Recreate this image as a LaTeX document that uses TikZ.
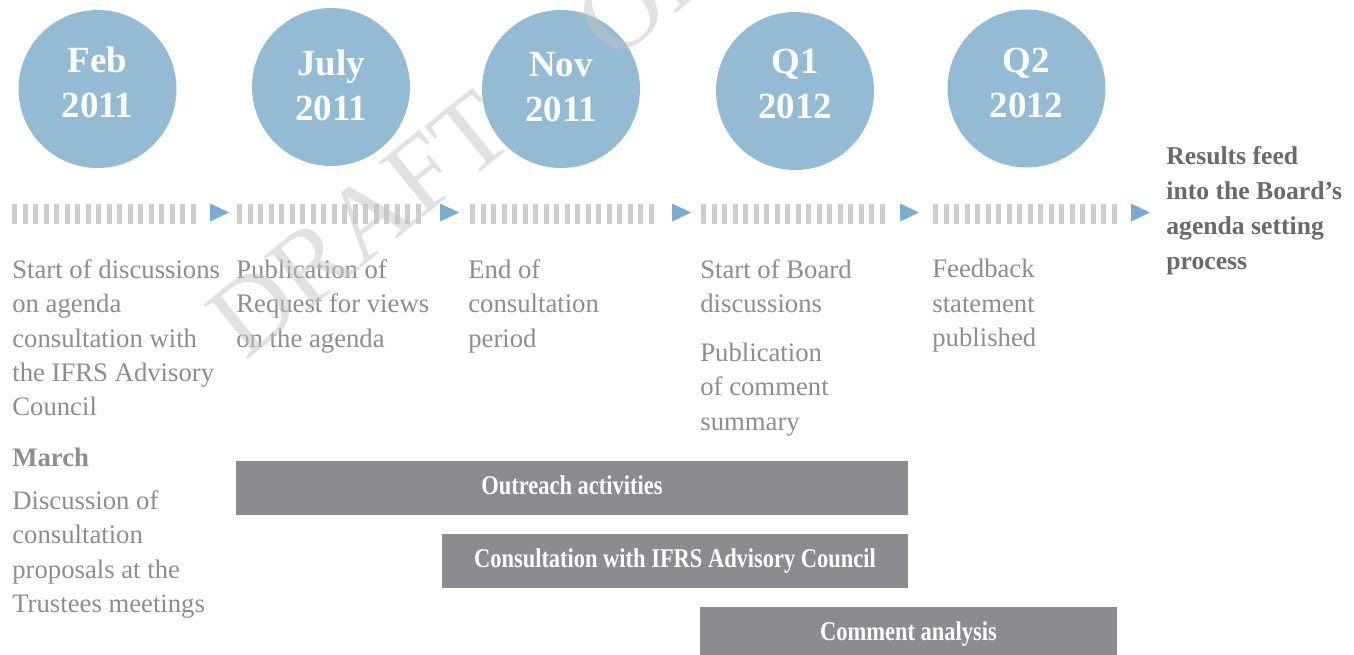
\documentclass[tikz,border=0pt]{standalone}
\usepackage{fontspec}
\setmainfont{Liberation Serif}
\newfontfamily\narrowSerif[FakeStretch=0.83]{Liberation Serif}
\usepackage{xcolor}

\definecolor{dateBlue}{RGB}{148,187,212}
\definecolor{arrowBlue}{RGB}{121,172,208}
\definecolor{stripeGray}{RGB}{205,205,206}
\definecolor{barGray}{RGB}{139,140,144}
\definecolor{textGray}{RGB}{140,141,145}
\definecolor{darkGray}{RGB}{105,106,110}
\definecolor{draftGray}{RGB}{194,195,198}

\begin{document}
\begin{tikzpicture}[x=0.02cm, y=-0.02cm, inner sep=0pt]
            \useasboundingbox (0,0) rectangle (1354,655);
            \clip (0,0) rectangle (1354,655);

            \tikzstyle{myCir}=[circle, fill=dateBlue, minimum size=3.16cm];
            \tikzstyle{myDate}=[align=center, text=white, font={\fontsize{21}{25.6}\selectfont\bfseries}];
            \tikzstyle{myText}=[anchor=north west, align=left, text=textGray, font={\fontsize{15.2}{19.6}\selectfont}];
            \tikzstyle{myBar}=[fill=barGray, minimum height=1.08cm, text=white, text height=1.5ex, text depth=0pt, font={\narrowSerif\fontsize{15.4}{18}\selectfont\bfseries}];

            % dates
            \node[myCir] (1) at (97.5,89) {};
            \node[myDate] (1t) at (97.5,82) {Feb\\2011};
            \node[myCir] (2) at (331,87) {};
            \node[myDate] (2t) at (331,85) {July\\2011};
            \node[myCir] (3) at (561,89) {};
            \node[myDate] (3t) at (561,87.5) {Nov\\2011};
            \node[myCir] (4) at (795,91) {};
            \node[myDate] (4t) at (795,84) {Q1\\2012};
            \node[myCir] (5) at (1026.5,88.5) {};
            \node[myDate] (5t) at (1026.5,82.5) {Q2\\2012};

            % timeline
            \foreach \s/\a in {12/210, 237/440, 470/672, 701/900, 933/1131} {
              \foreach \i in {0,...,17}
                \fill[stripeGray] (\s+\i*10.5,203.5) rectangle ++(5,20.5);
              \fill[arrowBlue] (\a,203.5) -- (\a+19,212.5) -- (\a,221.5) -- cycle;
            }

            % texts
            \node[myText] (t1) at (12,259) {Start of discussions\\on agenda\\consultation with\\the IFRS Advisory\\Council};
            \node[myText] (t1b) at (12,448) {\textbf{March}\\[0.16cm]Discussion of\\consultation\\proposals at the\\Trustees meetings};
            \node[myText] (t2) at (236,259) {Publication of\\Request for views\\on the agenda};
            \node[myText] (t3) at (468,259) {End of\\consultation\\period};
            \node[myText] (t4) at (700,259) {Start of Board\\discussions\\[0.29cm]Publication\\of comment\\summary};
            \node[myText] (t5) at (932,259) {Feedback\\statement\\published};
            \node[myText, text=darkGray, font={\fontsize{14.6}{19.9}\selectfont\bfseries}] (t6) at (1166,146) {Results feed\\into the Board’s\\agenda setting\\process};

            % bars
            \node[myBar, minimum width=13.44cm] (b1) at (572,488) {Outreach activities};
            \node[myBar, minimum width=9.32cm] (b2) at (675,561) {Consultation with IFRS Advisory Council};
            \node[myBar, minimum width=8.34cm] (b3) at (908.5,634) {Comment analysis};

            % watermark
            \node[rotate=39, anchor=base west, text=draftGray, opacity=0.5, font={\fontsize{60.9}{62}\selectfont}] (wm) at (245,362) {DRAFT\hspace{1.15em}ONLY};
         \end{tikzpicture}
\end{document}
